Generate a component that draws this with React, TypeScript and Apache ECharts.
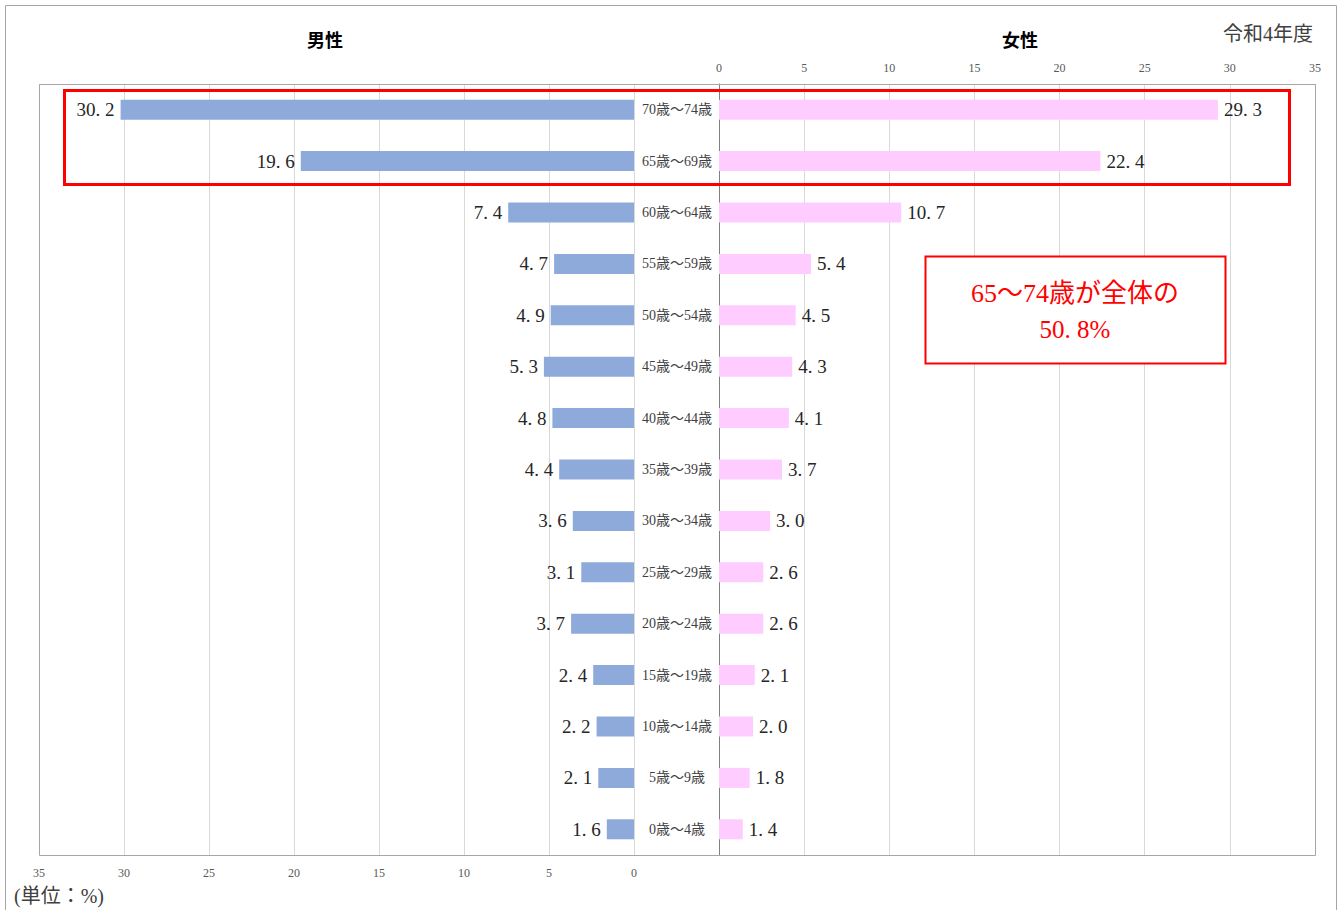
import React, { useEffect, useRef } from "react";
import * as echarts from "echarts";

const categories = [
  "70歳～74歳", "65歳～69歳", "60歳～64歳", "55歳～59歳", "50歳～54歳",
  "45歳～49歳", "40歳～44歳", "35歳～39歳", "30歳～34歳", "25歳～29歳",
  "20歳～24歳", "15歳～19歳", "10歳～14歳", "5歳～9歳", "0歳～4歳",
];
const maleValues = [30.2, 19.6, 7.4, 4.7, 4.9, 5.3, 4.8, 4.4, 3.6, 3.1, 3.7, 2.4, 2.2, 2.1, 1.6];
const femaleValues = [29.3, 22.4, 10.7, 5.4, 4.5, 4.3, 4.1, 3.7, 3.0, 2.6, 2.6, 2.1, 2.0, 1.8, 1.4];
const titleMale = "男性";
const titleFemale = "女性";
const yearLabel = "令和4年度";
const unitLabel = "(単位：%)";
const noteLines = ["65～74歳が全体の", "50. 8%"];

const SERIF = "'Liberation Serif', 'DejaVu Serif', 'Noto Sans CJK JP', serif";
const SANS = "'Noto Sans CJK JP', 'Noto Sans', sans-serif";

const fmt = (v: number) => v.toFixed(1).replace(".", ". ");

export default function App() {
  const ref = useRef<HTMLDivElement>(null);
  useEffect(() => {
    if (!ref.current) return;
    const chart = echarts.init(ref.current, undefined, { renderer: "svg" });
    const tickLabel = { color: "#595959", fontSize: 12, fontFamily: SERIF };
    const option: any = {
      animation: false,
      backgroundColor: "#ffffff",
      grid: [
        { left: 39, top: 84, width: 595, height: 771 },
        { left: 719, top: 84, width: 596, height: 771 },
      ],
      xAxis: [
        {
          gridIndex: 0, type: "value", min: 0, max: 35, interval: 5, inverse: true,
          position: "bottom",
          axisLine: { show: false }, axisTick: { show: false },
          axisLabel: { ...tickLabel, margin: 12 },
          splitLine: { show: true, lineStyle: { color: "#d9d9d9", width: 1 } },
        },
        {
          gridIndex: 1, type: "value", min: 0, max: 35, interval: 5,
          position: "top",
          axisLine: { show: false }, axisTick: { show: false },
          axisLabel: { ...tickLabel, margin: 10 },
          splitLine: { show: true, lineStyle: { color: "#d9d9d9", width: 1 } },
        },
      ],
      yAxis: [
        {
          gridIndex: 0, type: "category", data: categories, inverse: true,
          axisLine: { show: false }, axisTick: { show: false }, axisLabel: { show: false },
        },
        {
          gridIndex: 1, type: "category", data: categories, inverse: true,
          axisLine: { show: true, lineStyle: { color: "#808080", width: 1 } },
          axisTick: { show: false },
          axisLabel: {
            color: "#404040", fontSize: 14, fontFamily: SERIF,
            align: "center", margin: 42,
          },
        },
      ],
      series: [
        {
          type: "bar", xAxisIndex: 0, yAxisIndex: 0, data: maleValues, barWidth: 20,
          itemStyle: { color: "#8eaadb" },
          label: {
            show: true, position: "left", distance: 6, color: "#262626",
            fontSize: 19, fontFamily: SERIF, formatter: (p: any) => fmt(p.value),
          },
        },
        {
          type: "bar", xAxisIndex: 1, yAxisIndex: 1, data: femaleValues, barWidth: 20,
          itemStyle: { color: "#ffccff" },
          label: {
            show: true, position: "right", distance: 6, color: "#262626",
            fontSize: 19, fontFamily: SERIF, formatter: (p: any) => fmt(p.value),
          },
        },
      ],
      graphic: [
        { type: "rect", shape: { x: 5.5, y: 5.5, width: 1331, height: 920 }, style: { fill: "none", stroke: "#a6a6a6", lineWidth: 1 }, z: 0 },
        { type: "rect", shape: { x: 39.5, y: 84.5, width: 1276, height: 771 }, style: { fill: "none", stroke: "#a6a6a6", lineWidth: 1 }, z: 10 },
        { type: "rect", shape: { x: 64.5, y: 90.5, width: 1225, height: 94 }, style: { fill: "none", stroke: "#ff0000", lineWidth: 3 }, z: 20 },
        { type: "rect", shape: { x: 925.5, y: 256.5, width: 300, height: 107 }, style: { fill: "#ffffff", stroke: "#ff0000", lineWidth: 2 }, z: 20 },
        { type: "text", x: 1075, y: 293, style: { text: noteLines[0], fill: "#ff0000", font: `26px ${SERIF}`, textAlign: "center", textVerticalAlign: "middle" }, z: 21 },
        { type: "text", x: 1075, y: 329, style: { text: noteLines[1], fill: "#ff0000", font: `25px ${SERIF}`, textAlign: "center", textVerticalAlign: "middle" }, z: 21 },
        { type: "text", x: 325, y: 39, style: { text: titleMale, fill: "#000000", font: `bold 18px ${SANS}`, textAlign: "center", textVerticalAlign: "middle" }, z: 21 },
        { type: "text", x: 1020, y: 39, style: { text: titleFemale, fill: "#000000", font: `bold 18px ${SANS}`, textAlign: "center", textVerticalAlign: "middle" }, z: 21 },
        { type: "text", x: 1268, y: 34, style: { text: yearLabel, fill: "#404040", font: `20px ${SERIF}`, textAlign: "center", textVerticalAlign: "middle" }, z: 21 },
        { type: "text", x: 14, y: 896, style: { text: unitLabel, fill: "#404040", font: `20px ${SERIF}`, textAlign: "left", textVerticalAlign: "middle" }, z: 21 },
      ],
    };
    chart.setOption(option);
    return () => chart.dispose();
  }, []);
  return (
    <div
      ref={ref}
      style={{ position: "fixed", left: 0, top: 0, width: 1342, height: 910, background: "#fff" }}
    />
  );
}
